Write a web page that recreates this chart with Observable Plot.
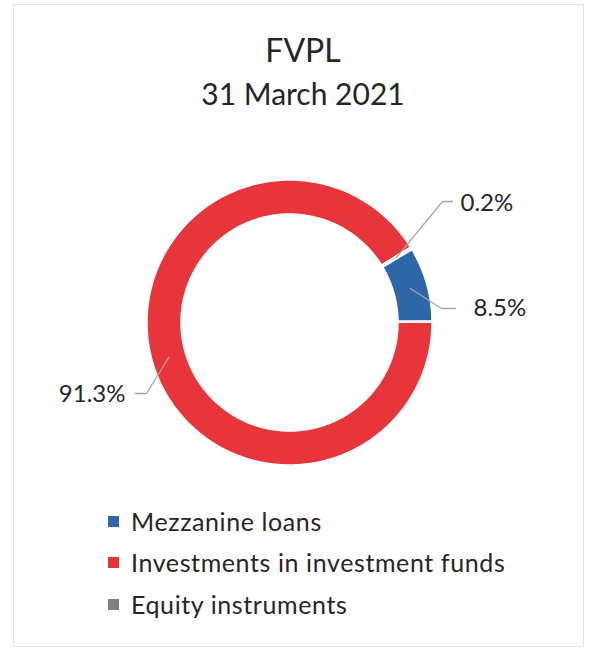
<!DOCTYPE html>
<html>
<head>
<meta charset="utf-8">
<script src="https://cdn.jsdelivr.net/npm/d3@7"></script>
<script src="https://cdn.jsdelivr.net/npm/@observablehq/plot@0.6"></script>
<style>
  html, body { margin: 0; padding: 0; background: #fff; }
  #page { position: relative; width: 590px; height: 651px; overflow: hidden; font-family: Lato, "Noto Sans", sans-serif; color: #262626; }
  #frame { position: absolute; left: 13px; top: 4px; width: 571px; height: 643px; border: 1px solid #e6e6e6; box-sizing: border-box; }
  #title { position: absolute; left: 13px; width: 580px; top: 30px; text-align: center; font-size: 32px; line-height: 40px; }
  #subtitle { position: absolute; left: 13px; width: 580px; top: 75px; text-align: center; font-size: 30px; line-height: 36px; }
  #chart { position: absolute; left: 0; top: 120px; }
  #legend { position: absolute; left: 0; top: 480px; width: 590px; }
  .row { position: absolute; left: 108px; height: 30px; display: flex; align-items: center; font-size: 25px; letter-spacing: 0.6px; }
  .sw { width: 11px; height: 11px; margin-right: 12px; flex: none; }
</style>
</head>
<body>
<div id="page">
  <div id="frame"></div>
  <div id="title"></div>
  <div id="subtitle"></div>
  <div id="chart"></div>
  <div id="legend"></div>
</div>
<script>
// ---- data ----
const chartTitle = "FVPL";
const chartSubtitle = "31 March 2021";
const categories = ["Mezzanine loans", "Investments in investment funds", "Equity instruments"];
const shares = [8.5, 91.3, 0.2];
const labels = ["8.5%", "91.3%", "0.2%"];
const colors = ["#2e66a8", "#e8353b", "#7f7f7f"];
const firstSliceAngleDeg = 59;

// ---- layout (pixels relative to donut centre) ----
const outerR = 143, innerR = 108;
const labelLayout = [
  {elbow: [152, -14], end: [166, -14], text: [184, -14], anchor: "start"},
  {elbow: [-143, 71], end: [-154, 71], text: [-164, 72], anchor: "end"},
  {elbow: [153, -121], end: [163, -121], text: [171, -119], anchor: "start"}
];

document.getElementById("title").textContent = chartTitle;
document.getElementById("subtitle").textContent = chartSubtitle;

const rows = categories.map((c, i) => ({category: c, share: shares[i], label: labels[i], color: colors[i], i}));
const a0 = firstSliceAngleDeg * Math.PI / 180;
const arcs = d3.pie().sort(null).value(d => d.share).startAngle(a0).endAngle(a0 + 2 * Math.PI)(rows);

const pt = (r, a) => [r * Math.sin(a), -r * Math.cos(a)];
const ringPts = [];
for (const arc of arcs) {
  const n = Math.max(2, Math.ceil((arc.endAngle - arc.startAngle) * 180 / Math.PI));
  const pts = [];
  for (let k = 0; k <= n; k++) pts.push(pt(outerR, arc.startAngle + (arc.endAngle - arc.startAngle) * k / n));
  for (let k = n; k >= 0; k--) pts.push(pt(innerR, arc.startAngle + (arc.endAngle - arc.startAngle) * k / n));
  for (const [x, y] of pts) ringPts.push({x, y, category: arc.data.category});
}

const leaderPts = [];
const labelPts = [];
arcs.forEach((arc, i) => {
  const lay = labelLayout[i];
  const mid = (arc.startAngle + arc.endAngle) / 2;
  const c = pt((outerR + innerR) / 2, mid);
  [c, lay.elbow, lay.end].forEach(([x, y]) => leaderPts.push({x, y, category: arc.data.category}));
  labelPts.push({x: lay.text[0], y: lay.text[1], label: arc.data.label, anchor: lay.anchor});
});

const plot = Plot.plot({
  width: 590,
  height: 360,
  margin: 0,
  x: {domain: [-289, 301], range: [0, 590], axis: null},
  y: {domain: [-202, 158], range: [0, 360], axis: null},
  color: {domain: categories, range: colors},
  style: {background: "transparent", fontFamily: "Lato, 'Noto Sans', sans-serif"},
  marks: [
    Plot.line(ringPts, {x: "x", y: "y", z: "category", fill: "category", stroke: "#ffffff", strokeWidth: 2.5, curve: "linear-closed"}),
    Plot.line(leaderPts, {x: "x", y: "y", z: "category", stroke: "#a6a6a6", strokeWidth: 1.3}),
    Plot.text(labelPts.filter(d => d.anchor === "start"), {x: "x", y: "y", text: "label", textAnchor: "start", fontSize: 24, fill: "#262626", lineAnchor: "middle"}),
    Plot.text(labelPts.filter(d => d.anchor === "end"), {x: "x", y: "y", text: "label", textAnchor: "end", fontSize: 24, fill: "#262626", lineAnchor: "middle"})
  ]
});
document.getElementById("chart").appendChild(plot);

// legend
const legendTops = [26, 67, 109];
const legend = document.getElementById("legend");
rows.forEach((d, i) => {
  const row = document.createElement("div");
  row.className = "row";
  row.style.top = legendTops[i] + "px";
  const sw = document.createElement("span");
  sw.className = "sw";
  sw.style.background = d.color;
  const tx = document.createElement("span");
  tx.textContent = d.category;
  row.appendChild(sw);
  row.appendChild(tx);
  legend.appendChild(row);
});
</script>
</body>
</html>
